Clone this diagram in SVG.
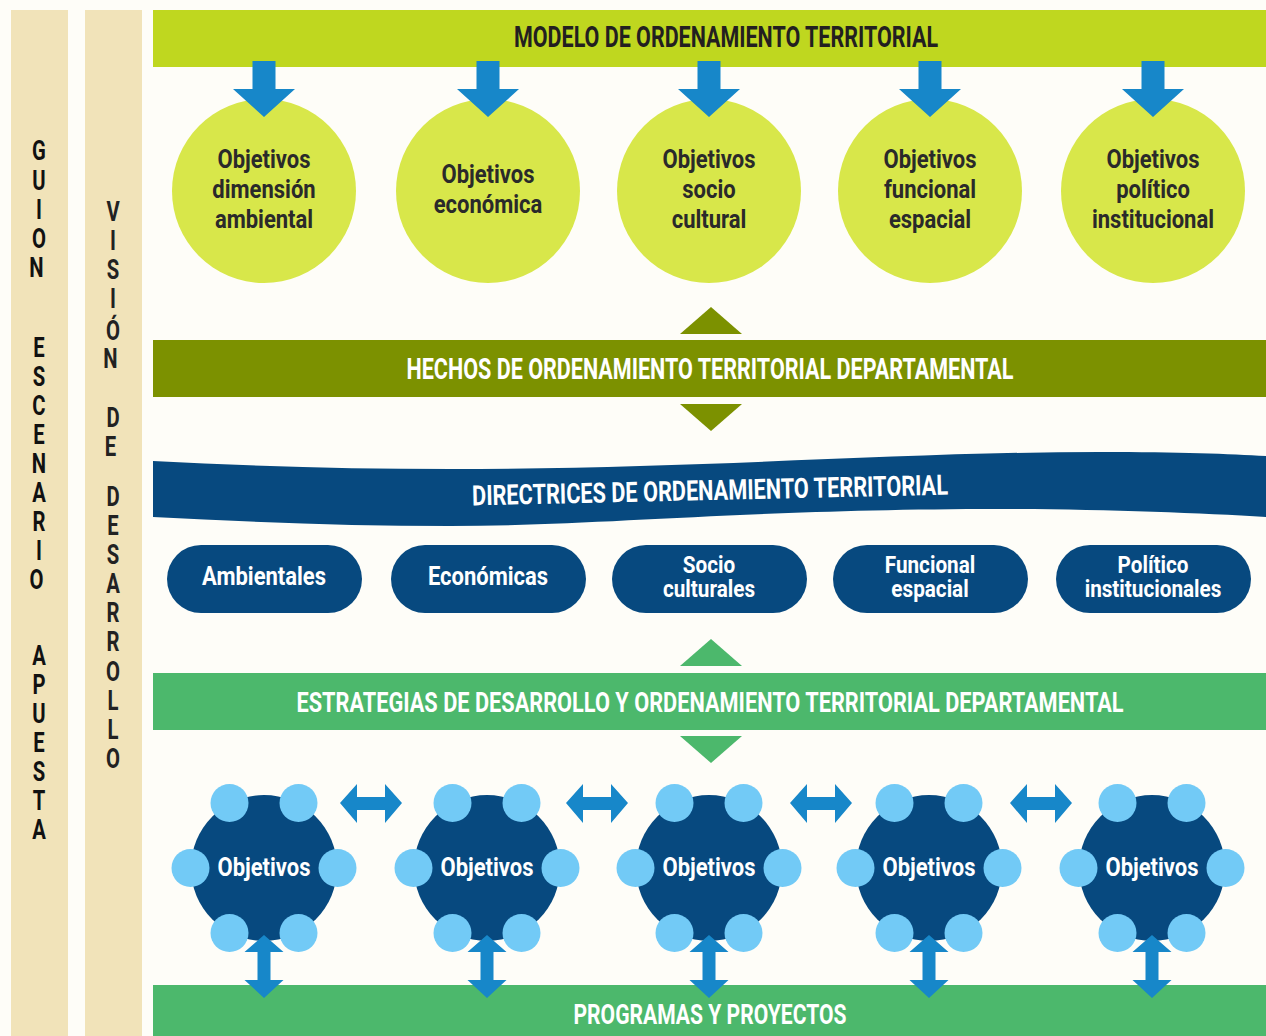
<svg xmlns="http://www.w3.org/2000/svg" width="1266" height="1036" viewBox="0 0 1266 1036">
<style>
.hdr{font-family:Roboto,"Liberation Sans",sans-serif;font-weight:700;text-anchor:middle}
.lt{font-family:Roboto,"Liberation Sans",sans-serif;font-weight:700;font-size:27px;text-anchor:middle}
.ct{font-family:Roboto,"Liberation Sans",sans-serif;font-weight:700;font-size:25px;text-anchor:middle;fill:#2a2a2a}
.pt{font-family:Roboto,"Liberation Sans",sans-serif;font-weight:700;font-size:25px;text-anchor:middle;fill:#ffffff}
.pt2{font-family:Roboto,"Liberation Sans",sans-serif;font-weight:700;font-size:23px;text-anchor:middle;fill:#ffffff}
.bigc{fill:#D8E74A}
.arr{fill:#1787C9}
.pill{fill:#07497F}
.dk{fill:#07497F}
.lb{fill:#72CAF6}
.strip{fill:#F1E3B9}
</style>
<rect width="1266" height="1036" fill="#FEFDF8"/>

<g id="guion-escenario-apuesta">
<rect class="strip" x="11" y="10" width="57" height="1026"/>
<g transform="translate(39 0) scale(0.75 1)">
<text class="lt" fill="#111111">
<tspan x="0" y="160">G</tspan><tspan x="0" y="190">U</tspan><tspan x="0" y="219">I</tspan><tspan x="0" y="248">O</tspan><tspan x="0" y="277">N</tspan>
<tspan x="0" y="357">E</tspan><tspan x="0" y="386">S</tspan><tspan x="0" y="415">C</tspan><tspan x="0" y="444">E</tspan><tspan x="0" y="473">N</tspan><tspan x="0" y="502">A</tspan><tspan x="0" y="531">R</tspan><tspan x="0" y="560">I</tspan><tspan x="0" y="589">O</tspan>
<tspan x="0" y="665">A</tspan><tspan x="0" y="694">P</tspan><tspan x="0" y="723">U</tspan><tspan x="0" y="752">E</tspan><tspan x="0" y="781">S</tspan><tspan x="0" y="810">T</tspan><tspan x="0" y="839">A</tspan>
</text>
</g>
</g>

<g id="vision-desarrollo">
<rect class="strip" x="85" y="10" width="57" height="1026"/>
<g transform="translate(113 0) scale(0.75 1)">
<text class="lt" fill="#222222">
<tspan x="0" y="221">V</tspan><tspan x="0" y="250">I</tspan><tspan x="0" y="279">S</tspan><tspan x="0" y="308">I</tspan><tspan x="0" y="340">Ó</tspan><tspan x="0" y="368">N</tspan>
<tspan x="0" y="427">D</tspan><tspan x="0" y="456">E</tspan>
<tspan x="0" y="506">D</tspan><tspan x="0" y="535">E</tspan><tspan x="0" y="564">S</tspan><tspan x="0" y="593">A</tspan><tspan x="0" y="622">R</tspan><tspan x="0" y="651">R</tspan><tspan x="0" y="681">O</tspan><tspan x="0" y="710">L</tspan><tspan x="0" y="739">L</tspan><tspan x="0" y="768">O</tspan>
</text>
</g>
</g>

<g id="modelo">
<rect x="153" y="10" width="1113" height="57" fill="#BFD71F"/>
<text class="hdr" x="726" y="47" font-size="30" fill="#231F20" textLength="424" lengthAdjust="spacingAndGlyphs">MODELO DE ORDENAMIENTO TERRITORIAL</text>
</g>

<g id="obj-ambiental">
<circle class="bigc" cx="264" cy="191" r="92"/>
<g transform="translate(264 0) scale(0.88 1)"><text class="ct"><tspan x="0" y="168">Objetivos</tspan><tspan x="0" y="198">dimensión</tspan><tspan x="0" y="228">ambiental</tspan></text></g>
</g>
<g id="obj-economica">
<circle class="bigc" cx="488" cy="191" r="92"/>
<g transform="translate(488 0) scale(0.88 1)"><text class="ct"><tspan x="0" y="183">Objetivos</tspan><tspan x="0" y="213">económica</tspan></text></g>
</g>
<g id="obj-sociocultural">
<circle class="bigc" cx="709" cy="191" r="92"/>
<g transform="translate(709 0) scale(0.88 1)"><text class="ct"><tspan x="0" y="168">Objetivos</tspan><tspan x="0" y="198">socio</tspan><tspan x="0" y="228">cultural</tspan></text></g>
</g>
<g id="obj-funcional">
<circle class="bigc" cx="930" cy="191" r="92"/>
<g transform="translate(930 0) scale(0.88 1)"><text class="ct"><tspan x="0" y="168">Objetivos</tspan><tspan x="0" y="198">funcional</tspan><tspan x="0" y="228">espacial</tspan></text></g>
</g>
<g id="obj-politico">
<circle class="bigc" cx="1153" cy="191" r="92"/>
<g transform="translate(1153 0) scale(0.88 1)"><text class="ct"><tspan x="0" y="168">Objetivos</tspan><tspan x="0" y="198">político</tspan><tspan x="0" y="228">institucional</tspan></text></g>
</g>

<g id="hechos">
<rect x="153" y="340" width="1113" height="57" fill="#7C9100"/>
<text class="hdr" x="710" y="379" font-size="29" fill="#ffffff" textLength="607" lengthAdjust="spacingAndGlyphs">HECHOS DE ORDENAMIENTO TERRITORIAL DEPARTAMENTAL</text>
</g>

<g id="directrices">
<path class="dk" d="M153,461 C250,466 350,469 450,469 C700,469 900,452 1100,452 C1180,452 1230,454 1266,456 L1266,517 C1200,513 1100,509 1000,509 C750,509 600,526 450,526 C350,526 250,522 153,517 Z"/>
<text class="hdr" x="710" y="500" font-size="28" fill="#ffffff" textLength="476" lengthAdjust="spacingAndGlyphs" transform="rotate(-1.3 710 490)">DIRECTRICES DE ORDENAMIENTO TERRITORIAL</text>
</g>

<g id="dir-ambientales">
<rect class="pill" x="167" y="545" width="195" height="68" rx="34"/>
<g transform="translate(264 0) scale(0.88 1)"><text class="pt" x="0" y="585">Ambientales</text></g>
</g>
<g id="dir-economicas">
<rect class="pill" x="391" y="545" width="195" height="68" rx="34"/>
<g transform="translate(488 0) scale(0.88 1)"><text class="pt" x="0" y="585">Económicas</text></g>
</g>
<g id="dir-socioculturales">
<rect class="pill" x="612" y="545" width="195" height="68" rx="34"/>
<g transform="translate(709 0) scale(0.9 1)"><text class="pt2"><tspan x="0" y="573">Socio</tspan><tspan x="0" y="597">culturales</tspan></text></g>
</g>
<g id="dir-funcional">
<rect class="pill" x="833" y="545" width="195" height="68" rx="34"/>
<g transform="translate(930 0) scale(0.9 1)"><text class="pt2"><tspan x="0" y="573">Funcional</tspan><tspan x="0" y="597">espacial</tspan></text></g>
</g>
<g id="dir-politico">
<rect class="pill" x="1056" y="545" width="195" height="68" rx="34"/>
<g transform="translate(1153 0) scale(0.9 1)"><text class="pt2"><tspan x="0" y="573">Político</tspan><tspan x="0" y="597">institucionales</tspan></text></g>
</g>

<g id="estrategias">
<rect x="153" y="673" width="1113" height="57" fill="#4CB86C"/>
<g transform="translate(710 0) scale(0.8 1)"><text class="hdr" x="0" y="712" font-size="28" fill="#ffffff" textLength="1034" lengthAdjust="spacingAndGlyphs">ESTRATEGIAS DE DESARROLLO Y ORDENAMIENTO TERRITORIAL DEPARTAMENTAL</text></g>
</g>

<g id="programas">
<rect x="153" y="985" width="1113" height="51" fill="#4CB86C"/>
<text class="hdr" x="710" y="1024" font-size="28" fill="#ffffff" textLength="273" lengthAdjust="spacingAndGlyphs">PROGRAMAS Y PROYECTOS</text>
</g>

<g id="objetivos-1">
<circle class="dk" cx="264" cy="868" r="73"/>
<circle class="lb" cx="229.5" cy="803" r="19"/><circle class="lb" cx="298.5" cy="803" r="19"/>
<circle class="lb" cx="190.5" cy="868" r="19"/><circle class="lb" cx="337.5" cy="868" r="19"/>
<circle class="lb" cx="229.5" cy="933" r="19"/><circle class="lb" cx="298.5" cy="933" r="19"/>
<g transform="translate(264 0) scale(0.88 1)"><text class="pt" x="0" y="876">Objetivos</text></g>
</g>
<g id="objetivos-2">
<circle class="dk" cx="487" cy="868" r="73"/>
<circle class="lb" cx="452.5" cy="803" r="19"/><circle class="lb" cx="521.5" cy="803" r="19"/>
<circle class="lb" cx="413.5" cy="868" r="19"/><circle class="lb" cx="560.5" cy="868" r="19"/>
<circle class="lb" cx="452.5" cy="933" r="19"/><circle class="lb" cx="521.5" cy="933" r="19"/>
<g transform="translate(487 0) scale(0.88 1)"><text class="pt" x="0" y="876">Objetivos</text></g>
</g>
<g id="objetivos-3">
<circle class="dk" cx="709" cy="868" r="73"/>
<circle class="lb" cx="674.5" cy="803" r="19"/><circle class="lb" cx="743.5" cy="803" r="19"/>
<circle class="lb" cx="635.5" cy="868" r="19"/><circle class="lb" cx="782.5" cy="868" r="19"/>
<circle class="lb" cx="674.5" cy="933" r="19"/><circle class="lb" cx="743.5" cy="933" r="19"/>
<g transform="translate(709 0) scale(0.88 1)"><text class="pt" x="0" y="876">Objetivos</text></g>
</g>
<g id="objetivos-4">
<circle class="dk" cx="929" cy="868" r="73"/>
<circle class="lb" cx="894.5" cy="803" r="19"/><circle class="lb" cx="963.5" cy="803" r="19"/>
<circle class="lb" cx="855.5" cy="868" r="19"/><circle class="lb" cx="1002.5" cy="868" r="19"/>
<circle class="lb" cx="894.5" cy="933" r="19"/><circle class="lb" cx="963.5" cy="933" r="19"/>
<g transform="translate(929 0) scale(0.88 1)"><text class="pt" x="0" y="876">Objetivos</text></g>
</g>
<g id="objetivos-5">
<circle class="dk" cx="1152" cy="868" r="73"/>
<circle class="lb" cx="1117.5" cy="803" r="19"/><circle class="lb" cx="1186.5" cy="803" r="19"/>
<circle class="lb" cx="1078.5" cy="868" r="19"/><circle class="lb" cx="1225.5" cy="868" r="19"/>
<circle class="lb" cx="1117.5" cy="933" r="19"/><circle class="lb" cx="1186.5" cy="933" r="19"/>
<g transform="translate(1152 0) scale(0.88 1)"><text class="pt" x="0" y="876">Objetivos</text></g>
</g>

<g id="connectors">
<defs>
<polygon id="downArr" points="-11.5,61 11.5,61 11.5,89 31,89 0,117 -31,89 -11.5,89"/>
<polygon id="hArr" points="-31,803 -14,784 -14,797 14,797 14,784 31,803 14,823 14,810 -14,810 -14,823"/>
<polygon id="vArr" points="0,935 19.5,952 6.5,952 6.5,980 19.5,980 0,998 -19.5,980 -6.5,980 -6.5,952 -19.5,952"/>
</defs>
<use href="#downArr" class="arr" x="264"/>
<use href="#downArr" class="arr" x="488"/>
<use href="#downArr" class="arr" x="709"/>
<use href="#downArr" class="arr" x="930"/>
<use href="#downArr" class="arr" x="1153"/>
<polygon points="680,334 742,334 711,307" fill="#7C9100"/>
<polygon points="680,404 742,404 711,431" fill="#7C9100"/>
<polygon points="680,666 742,666 711,639" fill="#4CB86C"/>
<polygon points="680,736 742,736 711,763" fill="#4CB86C"/>
<use href="#hArr" class="arr" x="371"/>
<use href="#hArr" class="arr" x="597"/>
<use href="#hArr" class="arr" x="821"/>
<use href="#hArr" class="arr" x="1041"/>
<use href="#vArr" class="arr" x="264"/>
<use href="#vArr" class="arr" x="487"/>
<use href="#vArr" class="arr" x="709"/>
<use href="#vArr" class="arr" x="929"/>
<use href="#vArr" class="arr" x="1152"/>
</g>
</svg>
